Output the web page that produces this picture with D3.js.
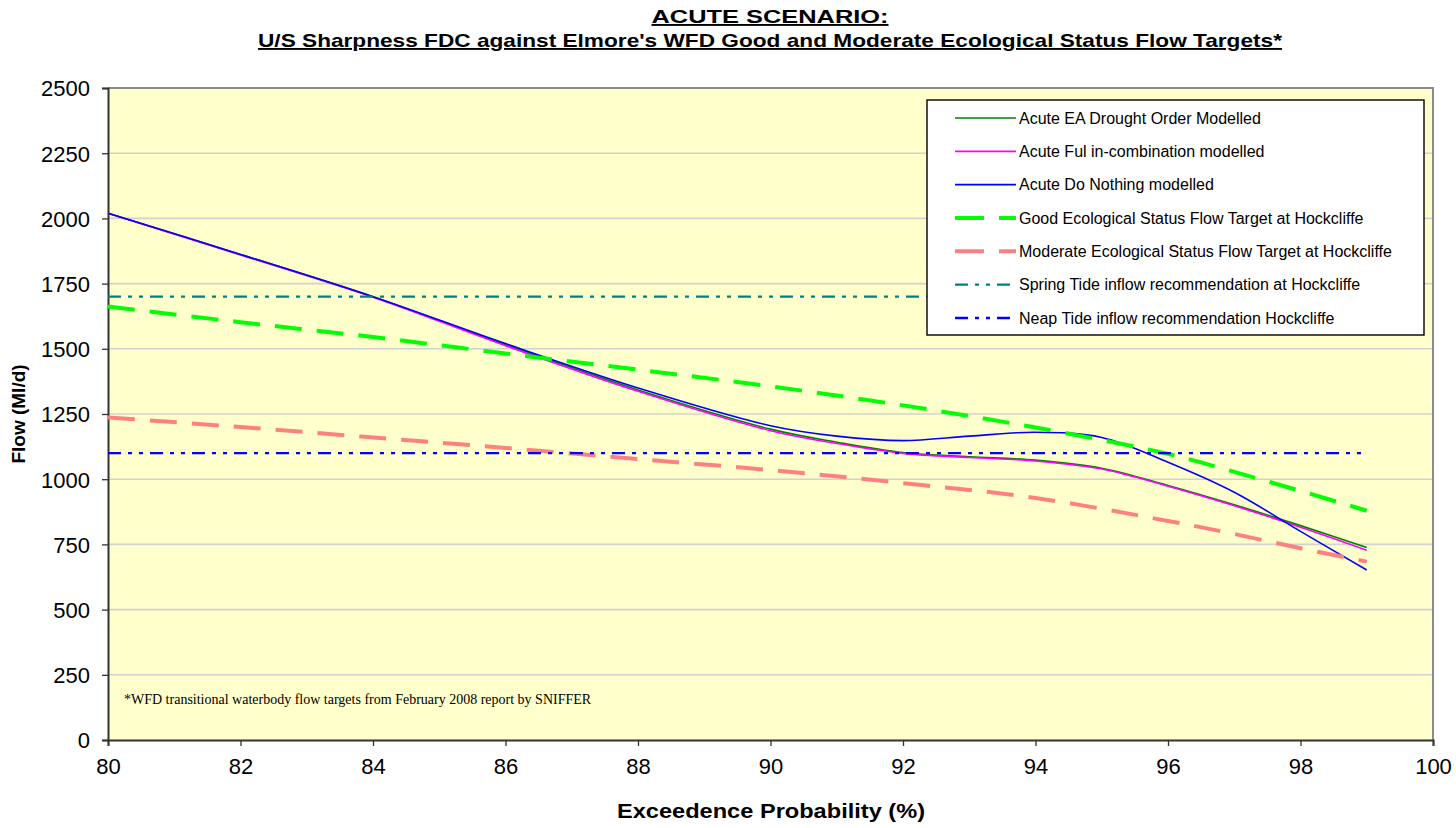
<!DOCTYPE html>
<html>
<head>
<meta charset="utf-8">
<script src="https://cdn.jsdelivr.net/npm/d3@7"></script>
<style>
  html, body { margin: 0; padding: 0; background: #ffffff; }
  svg { display: block; font-family: Arial, "Liberation Sans", sans-serif; }
</style>
</head>
<body>
<svg id="chart" width="1456" height="828"></svg>
<script>
// Exceedence probability (%) at which each flow was sampled
const exceedence = [80, 82, 84, 86, 88, 90, 91, 92, 93, 94, 95, 96, 97, 98, 99];

// Modelled flows (Ml/d)
const eaDroughtOrder = [2020, 1862, 1700, 1516, 1342, 1192, 1142, 1102, 1086, 1073, 1042, 976, 902, 822, 738];
const fulInCombination = [2020, 1860, 1698, 1512, 1337, 1186, 1137, 1099, 1083, 1070, 1039, 973, 898, 816, 728];
const doNothing = [2020, 1862, 1700, 1520, 1350, 1205, 1165, 1148, 1165, 1180, 1160, 1065, 950, 800, 652];

// WFD flow targets (Ml/d)
const targetX = [80, 82, 84, 86, 88, 90, 92, 94, 96, 97, 98, 99];
const goodTarget = [1662, 1602, 1545, 1482, 1420, 1356, 1283, 1198, 1097, 1028, 955, 879];
const moderateTarget = [1237, 1200, 1160, 1120, 1077, 1035, 985, 928, 840, 790, 735, 684];

// Tidal inflow recommendations (Ml/d)
const tideX = [80, 99];
const springTide = [1700, 1700];
const neapTide = [1100, 1100];

const xTicks = [80, 82, 84, 86, 88, 90, 92, 94, 96, 98, 100];
const yTicks = [0, 250, 500, 750, 1000, 1250, 1500, 1750, 2000, 2250, 2500];

const titleLines = ["ACUTE SCENARIO:", "U/S Sharpness FDC against Elmore's WFD Good and Moderate Ecological Status Flow Targets*"];
const footnote = "*WFD transitional waterbody flow targets from February 2008 report by SNIFFER";

const series = [
  { name: "Acute EA Drought Order Modelled", xs: exceedence, ys: eaDroughtOrder, color: "#008000", width: 1.6, dash: null, smooth: true },
  { name: "Acute Ful in-combination modelled", xs: exceedence, ys: fulInCombination, color: "#ff00ff", width: 1.6, dash: null, smooth: true },
  { name: "Acute Do Nothing modelled", xs: exceedence, ys: doNothing, color: "#0000ff", width: 1.6, dash: null, smooth: true },
  { name: "Good Ecological Status Flow Target at Hockcliffe", xs: targetX, ys: goodTarget, color: "#00ff00", width: 4, dash: "27,15", smooth: true },
  { name: "Moderate Ecological Status Flow Target at Hockcliffe", xs: targetX, ys: moderateTarget, color: "#ff8080", width: 4, dash: "27,15", smooth: true },
  { name: "Spring Tide inflow recommendation at Hockcliffe", xs: tideX, ys: springTide, color: "#008080", width: 2.2, dash: "13,7,4,7,4,7", smooth: false },
  { name: "Neap Tide inflow recommendation Hockcliffe", xs: tideX, ys: neapTide, color: "#0000ff", width: 2.4, dash: "13,7,4,7,4,7", smooth: false }
];

const svg = d3.select("#chart");
const plot = { left: 108, right: 1433, top: 88, bottom: 740 };

const x = d3.scaleLinear().domain([80, 100]).range([plot.left, plot.right]);
const y = d3.scaleLinear().domain([0, 2500]).range([plot.bottom, plot.top]);

// Plot background
svg.append("rect")
  .attr("x", plot.left).attr("y", plot.top)
  .attr("width", plot.right - plot.left).attr("height", plot.bottom - plot.top)
  .attr("fill", "#ffffcc");

// Horizontal gridlines
svg.append("g")
  .selectAll("line")
  .data(yTicks.filter(d => d > 0 && d < 2500))
  .join("line")
  .attr("x1", plot.left).attr("x2", plot.right)
  .attr("y1", d => y(d)).attr("y2", d => y(d))
  .attr("stroke", "#d2d2d2").attr("stroke-width", 1.6);

// Plot frame (top and right)
svg.append("path")
  .attr("d", `M${plot.left},${plot.top}H${plot.right}V${plot.bottom}`)
  .attr("fill", "none").attr("stroke", "#8c8c8c").attr("stroke-width", 2);

// Axes
const yAxis = svg.append("g")
  .attr("transform", `translate(${plot.left},0)`)
  .call(d3.axisLeft(y).tickValues(yTicks).tickSize(6).tickPadding(12).tickFormat(d3.format("d")));
const xAxis = svg.append("g")
  .attr("transform", `translate(0,${plot.bottom})`)
  .call(d3.axisBottom(x).tickValues(xTicks).tickSize(6).tickPadding(12).tickFormat(d3.format("d")));

[yAxis, xAxis].forEach(g => {
  g.select(".domain").attr("stroke", "#333").attr("stroke-width", 2);
  g.selectAll(".tick line").attr("stroke", "#333").attr("stroke-width", 1.3);
  g.selectAll(".tick text").attr("fill", "#000").style("font-size", "22px").style("font-family", "Arial, 'Liberation Sans', sans-serif");
});
yAxis.selectAll(".tick text").attr("dy", "0.36em");
xAxis.selectAll(".tick text").attr("dy", "0.74em");

// Series
const lines = svg.append("g");
series.forEach(s => {
  const gen = d3.line()
    .x((d, i) => x(s.xs[i]))
    .y(d => y(d))
    .curve(s.smooth ? d3.curveCatmullRom.alpha(0.5) : d3.curveLinear);
  lines.append("path")
    .datum(s.ys)
    .attr("d", gen)
    .attr("fill", "none")
    .attr("stroke", s.color)
    .attr("stroke-width", s.width)
    .attr("stroke-dasharray", s.dash)
    .attr("stroke-linejoin", "round");
});

// Footnote
svg.append("text")
  .attr("x", 124).attr("y", 704)
  .style("font-family", "'Liberation Serif', 'Times New Roman', serif")
  .style("font-size", "14px")
  .attr("fill", "#000")
  .text(footnote);

// Legend
const legend = svg.append("g");
legend.append("rect")
  .attr("x", 927).attr("y", 100).attr("width", 497).attr("height", 235)
  .attr("fill", "#ffffff").attr("stroke", "#000").attr("stroke-width", 1.4);
const legendRow = d3.scaleLinear().domain([0, series.length - 1]).range([118, 318]);
series.forEach((s, i) => {
  const ly = legendRow(i);
  legend.append("line")
    .attr("x1", 955).attr("x2", 1016).attr("y1", ly).attr("y2", ly)
    .attr("stroke", s.color)
    .attr("stroke-width", Math.min(s.width, 4))
    .attr("stroke-dasharray", s.dash ? (s.width >= 4 ? "29,15" : s.dash) : null);
  legend.append("text")
    .attr("x", 1019).attr("y", ly).attr("dy", "0.35em")
    .style("font-size", "16px")
    .attr("fill", "#000")
    .text(s.name);
});

// Titles (set in a slightly widened bold face)
const titleWidths = [237, 1024];
const title = svg.append("g");
titleLines.forEach((t, i) => {
  title.append("text")
    .attr("x", 770).attr("y", 23 + i * 24)
    .attr("text-anchor", "middle")
    .attr("textLength", titleWidths[i])
    .attr("lengthAdjust", "spacingAndGlyphs")
    .style("font-size", "19px").style("font-weight", "bold")
    .style("text-decoration", "underline")
    .attr("fill", "#000")
    .text(t);
});

// Axis titles
svg.append("text")
  .attr("x", 771).attr("y", 818)
  .attr("text-anchor", "middle")
  .attr("textLength", 308)
  .attr("lengthAdjust", "spacingAndGlyphs")
  .style("font-size", "20px").style("font-weight", "bold")
  .attr("fill", "#000")
  .text("Exceedence Probability (%)");

svg.append("text")
  .attr("transform", `translate(25,414) rotate(-90)`)
  .attr("text-anchor", "middle")
  .style("font-size", "19px").style("font-weight", "bold")
  .attr("fill", "#000")
  .text("Flow (Ml/d)");
</script>
</body>
</html>
